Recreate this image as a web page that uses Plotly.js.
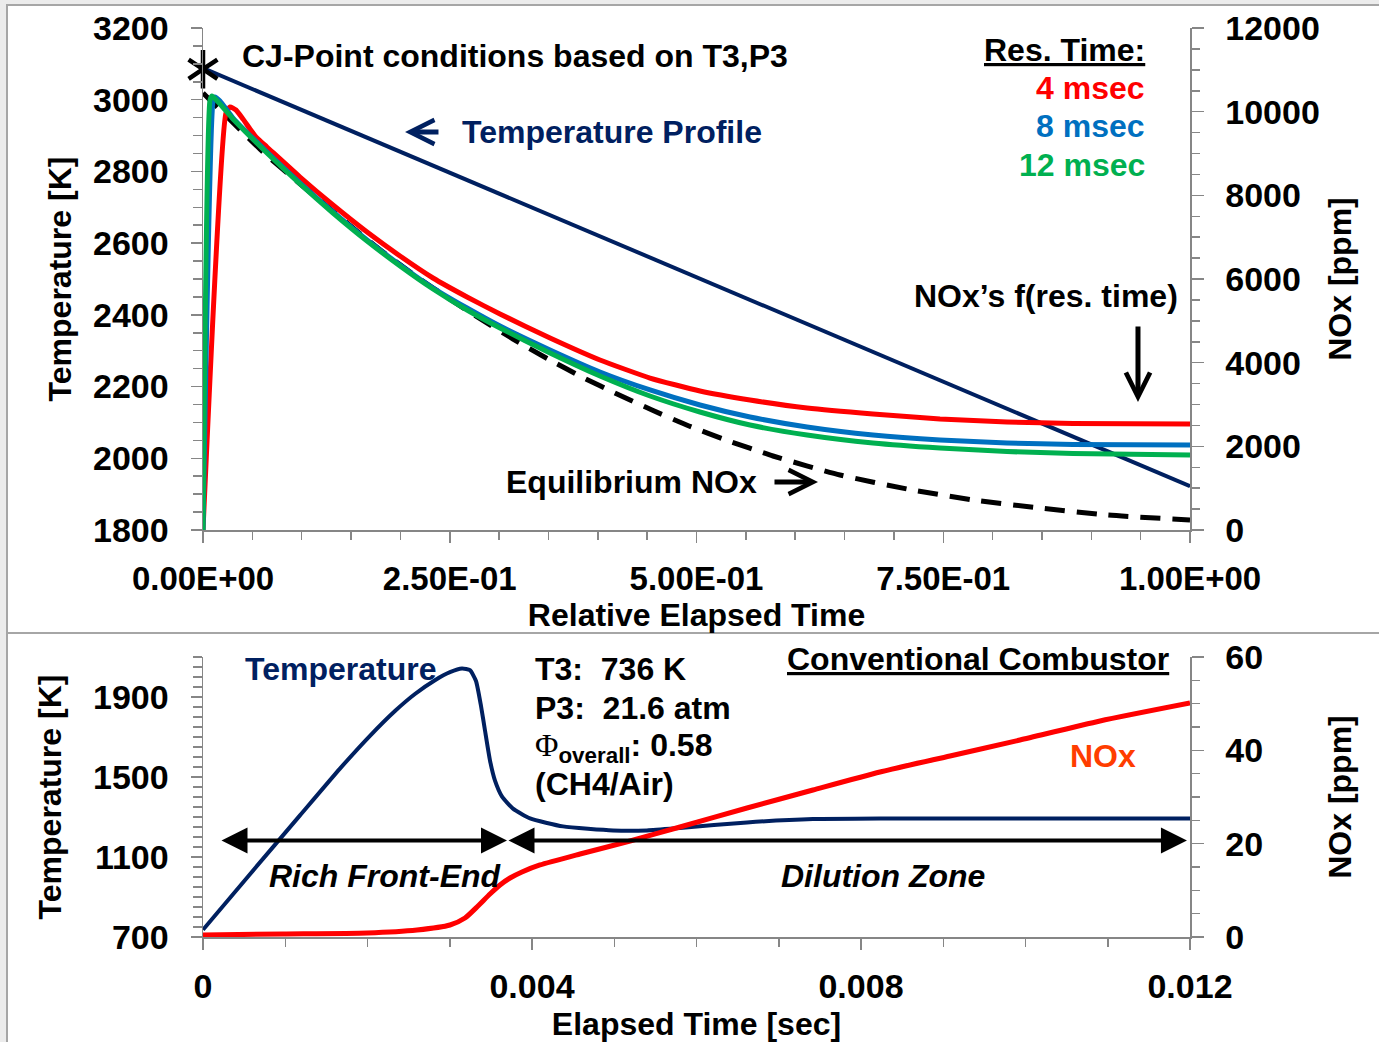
<!DOCTYPE html>
<html><head><meta charset="utf-8">
<script src="https://cdn.plot.ly/plotly-3.0.1.min.js"></script>
<style>html,body{margin:0;padding:0;background:#fff}#chart{width:1379px;height:1042px}</style>
</head><body><div id="chart"></div>
<script>
// ---------- TOP PANEL DATA (relative elapsed time) ----------
const eqX   = [0, 0.0608, 0.0912, 0.1216, 0.1520, 0.1824, 0.2168, 0.2482, 0.2827, 0.3141, 0.3495, 0.3840, 0.4195, 0.4549, 0.4924, 0.5299, 0.5775, 0.6454, 0.7133, 0.7801, 0.8480, 0.9159, 1.0];
const eqNOx = [10446, 9036, 8414, 7817, 7219, 6645, 6048, 5546, 5020, 4566, 4088, 3657, 3251, 2868, 2486, 2151, 1769, 1315, 980, 717, 526, 359, 239];

const red4X   = [0, 0.0233, 0.0274, 0.0334, 0.0405, 0.0476, 0.0547, 0.0648, 0.0983, 0.1317, 0.1662, 0.1996, 0.2330, 0.2675, 0.3009, 0.3516, 0.4022, 0.4529, 0.5035, 0.5542, 0.6120, 0.6788, 0.7467, 0.8146, 0.8815, 1.0];
const red4NOx = [0, 9968, 10111, 10040, 9825, 9586, 9370, 9155, 8438, 7769, 7123, 6550, 6024, 5570, 5163, 4590, 4064, 3633, 3323, 3108, 2916, 2773, 2653, 2582, 2546, 2534];

const blue8X   = [0, 0.0101, 0.0122, 0.0172, 0.0304, 0.0648, 0.0983, 0.1317, 0.1662, 0.1996, 0.2330, 0.2675, 0.3009, 0.3516, 0.4022, 0.4529, 0.5035, 0.5542, 0.6120, 0.6788, 0.7467, 0.8146, 0.8815, 1.0];
const blue8NOx = [0, 10231, 10350, 10255, 9848, 9036, 8295, 7601, 6932, 6335, 5785, 5307, 4876, 4303, 3777, 3347, 2988, 2701, 2462, 2271, 2151, 2080, 2044, 2032];

const green12X   = [0, 0.0071, 0.0091, 0.0304, 0.0648, 0.0983, 0.1317, 0.1662, 0.1996, 0.2330, 0.2675, 0.3009, 0.3516, 0.4022, 0.4529, 0.5035, 0.5542, 0.6120, 0.6788, 0.7467, 0.8146, 0.8815, 1.0];
const green12NOx = [0, 10279, 10374, 9825, 9012, 8271, 7578, 6908, 6311, 5761, 5259, 4829, 4231, 3681, 3203, 2821, 2510, 2271, 2080, 1960, 1876, 1829, 1793];

const tProfX = [0, 1.0];
const tProfT = [3088, 1922];

const cjX = [0];
const cjT = [3085];

const topXTickVals = [0, 0.25, 0.5, 0.75, 1.0];
const topXTickText = ['0.00E+00', '2.50E-01', '5.00E-01', '7.50E-01', '1.00E+00'];

// ---------- BOTTOM PANEL DATA (elapsed time, s) ----------
const combTimeT = [0, 0.000571, 0.001179, 0.001665, 0.002030, 0.002334, 0.002577, 0.002820, 0.003003, 0.003149, 0.003246, 0.003319, 0.003380, 0.003429, 0.003490, 0.003550, 0.003636, 0.003769, 0.003976, 0.004377, 0.004985, 0.005398, 0.005799, 0.006614, 0.007416, 0.008231, 0.012];
const combTemp  = [736, 1014, 1308, 1542, 1706, 1830, 1915, 1984, 2024, 2042, 2034, 1980, 1855, 1731, 1581, 1482, 1402, 1342, 1293, 1253, 1233, 1233, 1245, 1273, 1290, 1293, 1293];

const combTimeN = [0, 0.000973, 0.001994, 0.002602, 0.003003, 0.003185, 0.003343, 0.003489, 0.003611, 0.003733, 0.003878, 0.004097, 0.004584, 0.005192, 0.005799, 0.006614, 0.007416, 0.008231, 0.009082, 0.009933, 0.010906, 0.012];
const combNOx   = [0.43, 0.64, 0.86, 1.5, 2.57, 4.07, 6.64, 9.21, 11.14, 12.64, 13.93, 15.43, 17.79, 20.57, 23.57, 27.64, 31.5, 35.36, 38.79, 42.21, 46.29, 50.14];

const botXTickVals = [0, 0.004, 0.008, 0.012];
const botXTickText = ['0', '0.004', '0.008', '0.012'];

// ---------- STYLE ----------
const FONT = 'Liberation Sans, Arial, sans-serif';
const NAVY = '#002060', RED = '#ff0000', BLUE = '#0070c0', GREEN = '#00b050';
const AX = '#868686';
const yTickFont = {family: FONT, size: 34, color: '#000', weight: 'bold'};
const xTickFont = {family: FONT, size: 33, color: '#000', weight: 'bold'};
const titleFont = {family: FONT, size: 32, color: '#000', weight: 'bold'};
const annFont = (c, extra) => Object.assign({family: FONT, size: 32, color: c || '#000', weight: 'bold'}, extra || {});

const traces = [
  {x: eqX, y: eqNOx, xaxis: 'x', yaxis: 'y2', mode: 'lines', line: {color: '#000', width: 5, dash: '20px,12px', shape: 'spline', smoothing: 0.5}},
  {x: red4X, y: red4NOx, xaxis: 'x', yaxis: 'y2', mode: 'lines', line: {color: RED, width: 5, shape: 'spline', smoothing: 0.5}},
  {x: blue8X, y: blue8NOx, xaxis: 'x', yaxis: 'y2', mode: 'lines', line: {color: BLUE, width: 5, shape: 'spline', smoothing: 0.5}},
  {x: green12X, y: green12NOx, xaxis: 'x', yaxis: 'y2', mode: 'lines', line: {color: GREEN, width: 5, shape: 'spline', smoothing: 0.5}},
  {x: tProfX, y: tProfT, xaxis: 'x', yaxis: 'y', mode: 'lines', line: {color: NAVY, width: 4}},
  {x: cjX, y: cjT, xaxis: 'x', yaxis: 'y', mode: 'markers', cliponaxis: false, marker: {symbol: 'y-up-open', size: 24, color: '#000', line: {color: '#000', width: 4.5}}},
  {x: cjX, y: cjT, xaxis: 'x', yaxis: 'y', mode: 'markers', cliponaxis: false, marker: {symbol: 'y-down-open', size: 24, color: '#000', line: {color: '#000', width: 4.5}}},
  {x: combTimeT, y: combTemp, xaxis: 'x2', yaxis: 'y3', mode: 'lines', line: {color: NAVY, width: 4, shape: 'spline', smoothing: 0.5}},
  {x: combTimeN, y: combNOx, xaxis: 'x2', yaxis: 'y4', mode: 'lines', line: {color: RED, width: 5, shape: 'spline', smoothing: 0.6}}
];

const baseAx = {showgrid: false, zeroline: false, showline: true, linecolor: AX, linewidth: 1.5,
  ticks: 'outside', tickcolor: AX, tickwidth: 1.5, fixedrange: true};
const inAx = {showgrid: false, zeroline: false, showline: false, ticks: 'inside', tickcolor: AX, tickwidth: 1.5, ticklen: 11, showticklabels: false};

const topDom = [(937 - 530) / 909, 1];
const botDom = [0, (937 - 657) / 909];

const layout = {
  width: 1379, height: 1042,
  margin: {l: 203, r: 189, t: 28, b: 105, pad: 0},
  paper_bgcolor: '#ececec', plot_bgcolor: '#ffffff',
  showlegend: false,
  font: {family: FONT, size: 32, color: '#000', weight: 'bold'},
  xaxis: Object.assign({}, baseAx, {domain: [0, 1], anchor: 'y', range: [0, 1], tickmode: 'array', tickvals: topXTickVals, ticktext: topXTickText,
    tickfont: xTickFont, ticklen: 11, ticklabelstandoff: 8, minor: {dtick: 0.05, tick0: 0, ticks: 'outside', ticklen: 8, tickcolor: AX, tickwidth: 1.5},
    title: {text: 'Relative Elapsed Time', font: titleFont, standoff: 6}}),
  yaxis: Object.assign({}, baseAx, {domain: topDom, anchor: 'x', range: [1800, 3200], dtick: 200, tick0: 1800, tickfont: yTickFont, ticklen: 11, ticklabelstandoff: 15,
    minor: {dtick: 50, tick0: 1800, ticks: 'outside', ticklen: 9, tickcolor: AX, tickwidth: 1.5},
    title: {text: 'Temperature [K]', font: titleFont, standoff: 12}}),
  yaxis2: Object.assign({}, baseAx, {overlaying: 'y', side: 'right', anchor: 'x', range: [0, 12000], dtick: 2000, tick0: 0, tickformat: 'd', tickfont: yTickFont, ticklen: 12, ticklabelstandoff: 15,
    minor: {dtick: 500, tick0: 0, ticks: 'outside', ticklen: 8, tickcolor: AX, tickwidth: 1.5},
    title: {text: 'NOx [ppm]', font: titleFont, standoff: 10}}),
  xaxis2: Object.assign({}, baseAx, {domain: [0, 1], anchor: 'y3', range: [0, 0.012], tickmode: 'array', tickvals: botXTickVals, ticktext: botXTickText,
    tickfont: yTickFont, ticklen: 11, ticklabelstandoff: 8, minor: {dtick: 0.001, tick0: 0, ticks: 'outside', ticklen: 8, tickcolor: AX, tickwidth: 1.5},
    title: {text: 'Elapsed Time [sec]', font: titleFont, standoff: 9}}),
  yaxis3: Object.assign({}, baseAx, {domain: botDom, anchor: 'x2', range: [700, 2100], dtick: 400, tick0: 700, tickfont: yTickFont, ticklen: 11, ticklabelstandoff: 15,
    minor: {dtick: 50, tick0: 700, ticks: 'outside', ticklen: 9, tickcolor: AX, tickwidth: 1.5},
    title: {text: 'Temperature [K]', font: titleFont, standoff: 22}}),
  yaxis4: Object.assign({}, baseAx, {overlaying: 'y3', side: 'right', anchor: 'x2', range: [0, 60], dtick: 20, tick0: 0, tickfont: yTickFont, ticklen: 12, ticklabelstandoff: 15,
    minor: {dtick: 5, tick0: 0, ticks: 'outside', ticklen: 8, tickcolor: AX, tickwidth: 1.5},
    title: {text: 'NOx [ppm]', font: titleFont, standoff: 66}}),
  xaxis3: Object.assign({}, inAx, {overlaying: 'x', anchor: 'y', range: [0, 1], tickmode: 'array', tickvals: topXTickVals}),
  yaxis5: Object.assign({}, inAx, {overlaying: 'y', anchor: 'x', side: 'left', range: [1800, 3200], dtick: 200, tick0: 1800}),
  yaxis6: Object.assign({}, inAx, {overlaying: 'y', anchor: 'x', side: 'right', range: [0, 12000], dtick: 2000, tick0: 0}),
  xaxis4: Object.assign({}, inAx, {overlaying: 'x2', anchor: 'y3', range: [0, 0.012], tickmode: 'array', tickvals: botXTickVals}),
  yaxis7: Object.assign({}, inAx, {overlaying: 'y3', anchor: 'x2', side: 'left', range: [700, 2100], dtick: 400, tick0: 700}),
  yaxis8: Object.assign({}, inAx, {overlaying: 'y3', anchor: 'x2', side: 'right', range: [0, 60], dtick: 20, tick0: 0}),
  shapes: [
    {type: 'rect', xref: 'paper', yref: 'paper', x0: (7 - 203) / 987, x1: (1385 - 203) / 987, y0: (937 - 633) / 909, y1: (937 - 5) / 909,
      fillcolor: '#ffffff', line: {color: '#a6a6a6', width: 2}, layer: 'below'},
    {type: 'rect', xref: 'paper', yref: 'paper', x0: (7 - 203) / 987, x1: (1385 - 203) / 987, y0: (937 - 1050) / 909, y1: (937 - 633) / 909,
      fillcolor: '#ffffff', line: {color: '#a6a6a6', width: 2}, layer: 'below'}
  ],
  annotations: [
    // top panel text
    {xref: 'x', yref: 'y', x: 0.0375, y: 3122, xanchor: 'left', yanchor: 'middle', showarrow: false, text: 'CJ-Point conditions based on T3,P3', font: annFont()},
    {xref: 'x', yref: 'y', x: 0.2604, y: 2910, xanchor: 'left', yanchor: 'middle', showarrow: false, text: 'Temperature Profile', font: annFont(NAVY)},
    {xref: 'x', yref: 'y', x: 0.9564, y: 3139, xanchor: 'right', yanchor: 'middle', showarrow: false, text: 'Res. Time:', font: annFont('#000', {lineposition: 'under'})},
    {xref: 'x', yref: 'y', x: 0.9564, y: 3033, xanchor: 'right', yanchor: 'middle', showarrow: false, text: '4 msec', font: annFont(RED)},
    {xref: 'x', yref: 'y', x: 0.9564, y: 2927, xanchor: 'right', yanchor: 'middle', showarrow: false, text: '8 msec', font: annFont(BLUE)},
    {xref: 'x', yref: 'y', x: 0.9564, y: 2818, xanchor: 'right', yanchor: 'middle', showarrow: false, text: '12 msec', font: annFont(GREEN)},
    {xref: 'x', yref: 'y', x: 0.9899, y: 2452, xanchor: 'right', yanchor: 'middle', showarrow: false, text: 'NOx\u2019s f(res. time)', font: annFont()},
    {xref: 'x', yref: 'y', x: 0.305, y: 1934, xanchor: 'left', yanchor: 'middle', showarrow: false, text: 'Equilibrium NOx', font: annFont()},
    // top panel arrows
    {xref: 'x', yref: 'y', axref: 'x', ayref: 'y', x: 0.2047, y: 2910, ax: 0.2401, ay: 2910, text: '', showarrow: true,
      arrowhead: 5, arrowwidth: 5, arrowsize: 0.95, arrowcolor: NAVY},
    {xref: 'x', yref: 'y', axref: 'x', ayref: 'y', x: 0.6231, y: 1934, ax: 0.5775, ay: 1934, text: '', showarrow: true,
      arrowhead: 5, arrowwidth: 5, arrowsize: 0.95, arrowcolor: '#000'},
    {xref: 'x', yref: 'y', axref: 'x', ayref: 'y', x: 0.9473, y: 2157, ax: 0.9473, ay: 2372, text: '', showarrow: true,
      arrowhead: 5, arrowwidth: 5, arrowsize: 0.95, arrowcolor: '#000'},
    // bottom panel text
    {xref: 'x2', yref: 'y3', x: 0.000486, y: 2039, xanchor: 'left', yanchor: 'middle', showarrow: false, text: 'Temperature', font: annFont(NAVY)},
    {xref: 'x2', yref: 'y3', x: 0.004012, y: 2039, xanchor: 'left', yanchor: 'middle', showarrow: false, text: 'T3:\u00a0 736 K', font: annFont()},
    {xref: 'x2', yref: 'y3', x: 0.004012, y: 1845, xanchor: 'left', yanchor: 'middle', showarrow: false, text: 'P3:\u00a0 21.6 atm', font: annFont()},
    {xref: 'x2', yref: 'y3', x: 0.004012, y: 1650, xanchor: 'left', yanchor: 'middle', showarrow: false,
      text: '<span style="font-family:Liberation Serif;font-weight:normal">\u03a6</span><sub>overall</sub>: 0.58', font: annFont()},
    {xref: 'x2', yref: 'y3', x: 0.004012, y: 1467, xanchor: 'left', yanchor: 'middle', showarrow: false, text: '(CH4/Air)', font: annFont()},
    {xref: 'x2', yref: 'y3', x: 0.011769, y: 2089, xanchor: 'right', yanchor: 'middle', showarrow: false, text: 'Conventional Combustor', font: annFont('#000', {lineposition: 'under'})},
    {xref: 'x2', yref: 'y3', x: 0.010942, y: 1606, xanchor: 'center', yanchor: 'middle', showarrow: false, text: 'NOx', font: annFont('#ff3d00')},
    {xref: 'x2', yref: 'y3', x: 0.002213, y: 1004, xanchor: 'center', yanchor: 'middle', showarrow: false, text: 'Rich Front-End', font: annFont('#000', {style: 'italic'})},
    {xref: 'x2', yref: 'y3', x: 0.008267, y: 1004, xanchor: 'center', yanchor: 'middle', showarrow: false, text: 'Dilution Zone', font: annFont('#000', {style: 'italic'})},
    // bottom panel double arrows
    {xref: 'x2', yref: 'y3', axref: 'x2', ayref: 'y3', x: 0.003696, y: 1183, ax: 0.000207, ay: 1183, text: '', showarrow: true,
      arrowside: 'end+start', arrowhead: 2, startarrowhead: 2, arrowwidth: 4, arrowsize: 1.3, startarrowsize: 1.3, arrowcolor: '#000'},
    {xref: 'x2', yref: 'y3', axref: 'x2', ayref: 'y3', x: 0.011963, y: 1183, ax: 0.003696, ay: 1183, text: '', showarrow: true,
      arrowside: 'end+start', arrowhead: 2, startarrowhead: 2, arrowwidth: 4, arrowsize: 1.3, startarrowsize: 1.3, arrowcolor: '#000'}
  ]
};

Plotly.newPlot('chart', traces, layout, {displayModeBar: false, staticPlot: true});
</script></body></html>
